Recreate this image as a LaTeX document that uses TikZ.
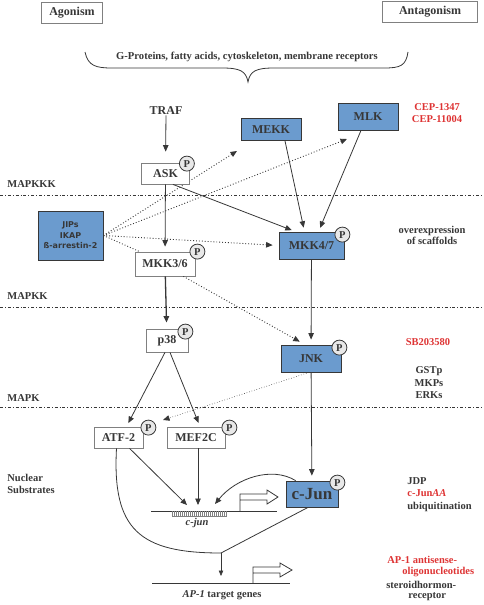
\documentclass[tikz,border=0pt]{standalone}
\usepackage{fontspec}
\setmainfont{Liberation Serif}
\newfontfamily\scaffoldfont{DejaVu Sans}
\usepackage{tikz}
\usetikzlibrary{positioning}
\usetikzlibrary{arrows.meta}
\definecolor{kinaseblue}{RGB}{107,155,206}
\definecolor{drugred}{RGB}{222,52,52}
\definecolor{inkgray}{RGB}{55,55,55}
\newcommand*{\bfs}[2]{\fontsize{#1}{#2}\selectfont\bfseries}
\newcommand*{\phos}[3]{\node[phos] (#1p) at ([xshift=#2pt,yshift=#3pt]#1.north east) {P};}

\begin{document}
\begin{tikzpicture}[x=1pt,y=-1pt,->,>={Triangle[length=6.5pt,width=5.5pt]},draw=inkgray,line width=0.8pt]
        \tikzset{box/.style={shape=rectangle,draw=gray,fill=white,inner sep=0pt,text=inkgray,font=\bfs{12}{14}},
                 kinase/.style={box,draw=inkgray,fill=kinaseblue},
                 phos/.style={shape=circle,draw=inkgray,fill=gray!18,inner sep=0pt,minimum size=15pt,text=inkgray,font=\bfs{10.5}{12}},
                 sidetext/.style={inner sep=0pt,text=inkgray,font=\bfs{10.5}{12.5}},
                 drug/.style={sidetext,text=drugred},
                 tierline/.style={-,dash dot,line width=0.6pt},
                 scaffold/.style={dotted,line width=0.9pt}}
        \useasboundingbox (0,0) rectangle (483,605);

        \node[box,minimum width=61pt,minimum height=21pt] (agon) at (72,12.5) {Agonism};
        \node[box,minimum width=95pt,minimum height=21pt] (antag) at (430,12) {Antagonism};
        \node[sidetext,font=\bfs{10.6}{12}] (gprot) at (247,57) {G-Proteins, fatty acids, cytoskeleton, membrane receptors};
        \draw[-] (85,52) .. controls (88,66) and (96,68) .. (112,68) -- (222,68) .. controls (240,68) and (246,71) .. (248,82)
                 .. controls (250,71) and (256,68) .. (274,68) -- (384,68) .. controls (400,68) and (406,66) .. (408,52);

        % tiers
        \draw[tierline] (0,195) -- (483,195);
        \draw[tierline] (0,307) -- (483,307);
        \draw[tierline] (0,407) -- (483,407);
        \node[sidetext,anchor=west] (mapkkk) at (7,184) {MAPKKK};
        \node[sidetext,anchor=west] (mapkk) at (7,296) {MAPKK};
        \node[sidetext,anchor=west] (mapk) at (7,398) {MAPK};
        \node[sidetext,anchor=west,align=left] (nucl) at (7,484) {Nuclear\\Substrates};

        % antagonists
        \node[drug,align=center] (cep) at (437,113) {CEP-1347\\CEP-11004};
        \node[sidetext,align=center,font=\bfs{10.5}{10.5}] (scaff) at (432,235.5) {overexpression\\of scaffolds};
        \node[drug] (sb) at (428,342) {SB203580};
        \node[sidetext,align=center] (gstp) at (429,383) {GSTp\\MKPs\\ERKs};
        \node[sidetext,anchor=west,align=left] (jdp) at (407,494.5) {JDP\\{\color{drugred}c-Jun\textit{AA}}\\ubiquitination};
        \node[drug,anchor=west] (anti) at (387,560) {AP-1 antisense-};
        \node[drug,anchor=west] (oligo) at (402,572) {oligonucleotides};
        \node[sidetext,anchor=west] (steroid) at (386,585) {steroidhormon-};
        \node[sidetext,anchor=west] (recep) at (408,597) {receptor};

        % scaffold links, drawn below the boxes
        \coordinate (mekktip) at (237,151);
        \coordinate (mlktip) at (347,139);
        \coordinate (atftip) at (163,420);
        \node[kinase,minimum width=65pt,minimum height=49pt,align=center,font=\scaffoldfont\bfs{8}{10.5}] (jips) at (70.5,235.5) {JIPs\\IKAP\\ß-arrestin-2};
        \node[box,minimum width=60pt,minimum height=24pt] (mkk36) at (165,264) {MKK3/6};
        \node[kinase,minimum width=65pt,minimum height=27pt] (mkk47) at (311.5,245.5) {MKK4/7};
        \path[scaffold] (jips.east) edge (mekktip)
                        (jips.east) edge (mlktip)
                        (jips.east) edge[shorten >=6pt] (mkk47.west)
                        (jips.east) edge[-] ([xshift=5pt]mkk36.north west);

        \node[sidetext,font=\bfs{12}{14}] (traf) at (166,111) {TRAF};
        \node[box,minimum width=48pt,minimum height=21pt] (ask) at (165.5,173.5) {ASK};
        \node[kinase,minimum width=60pt,minimum height=22pt] (mekk) at (271,129.5) {MEKK};
        \node[kinase,minimum width=60pt,minimum height=27pt] (mlk) at (368,116.5) {MLK};
        \node[box,minimum width=42pt,minimum height=23pt] (p38) at (167,340.5) {p38};
        \node[kinase,minimum width=60pt,minimum height=27pt] (jnk) at (311,358.5) {JNK};
        \node[box,minimum width=49pt,minimum height=21pt] (atf2) at (118.5,437.5) {ATF-2};
        \node[box,minimum width=58pt,minimum height=21pt] (mef2c) at (196,437.5) {MEF2C};
        \node[kinase,minimum width=52pt,minimum height=26pt,font=\bfs{17}{19}] (cjun) at (312,494) {c-Jun};

        \phos{ask}{-3}{-1}
        \phos{mkk36}{2}{0}
        \phos{mkk47}{-2}{-3}
        \phos{p38}{-3}{-3}
        \phos{jnk}{-2}{-3}
        \phos{atf2}{5}{-1}
        \phos{mef2c}{4}{-1}
        \phos{cjun}{-1}{-2}

        % cascade
        \path[shorten >=11pt] (traf) edge (ask);
        \path[shorten >=5pt] (ask) edge (mkk36)
                             (mkk47) edge (jnk)
                             (jnk) edge (cjun);
        \path[shorten >=6pt,line width=1.3pt] (mkk36) edge (p38);
        \path[shorten >=4pt] ([xshift=-17pt]ask.south east) edge ([xshift=-16pt]mkk47.north)
                             ([xshift=14pt]mekk.south) edge ([xshift=-7pt]mkk47.north)
                             ([xshift=-7pt]mlk.south) edge ([xshift=7pt]mkk47.north)
                             ([xshift=-2pt]p38.south) edge ([xshift=8pt]atf2.north)
                             ([xshift=3pt]p38.south) edge ([xshift=4pt]mef2c.north);
        \path[scaffold] ([xshift=-12pt]mkk36.south east) edge[shorten >=6pt] ([xshift=-6pt]jnk.north);
        \path[dotted,line width=0.6pt] ([xshift=-2pt]jnk.south) edge (atftip);

        % c-jun gene
        \coordinate (atfsite) at (187,505);
        \coordinate (mefsite) at (198,505);
        \coordinate (autosite) at (215,504);
        \coordinate (ap1join) at (221,553);
        \coordinate (ap1site) at (221,576);
        \draw[-] (151,511) -- (277,511);
        \foreach \x in {172,174,...,226}
            \draw[-,line width=0.4pt,gray] (\x,511) -- (\x,516);
        \draw[-,line width=0.4pt,gray] (172,516) -- (227,516);
        \draw[-] (240,511) -- (240,494) -- (267,494) -- (267,490) -- (278,497) -- (267,504) -- (267,500) -- (240,500);
        \node[sidetext,font=\fontsize{10.5}{12}\selectfont\bfseries\itshape] (cjungene) at (197,523) {c-jun};
        \path (atf2) edge (atfsite)
              ([xshift=2pt]mef2c.south) edge (mefsite);
        \draw[->] ([xshift=10pt]cjun.north west) .. controls (272,466) and (236,478) .. (autosite);

        % AP-1 target genes
        \draw[-] ([xshift=-2pt]atf2.south) .. controls (112,530) and (140,553) .. (ap1join);
        \draw[-] ([xshift=-4pt]cjun.south) -- (ap1join);
        \path[line width=0.6pt,>={Triangle[length=5.5pt,width=4.5pt]}] (ap1join) edge (ap1site);
        \draw[-] (152,583) -- (290,583);
        \draw[-] (253,583) -- (253,567) -- (280,567) -- (280,563) -- (292,570) -- (280,577) -- (280,573) -- (253,573);
        \node[sidetext] (ap1genes) at (222,595) {\textit{AP-1} target genes};
\end{tikzpicture}
\end{document}
